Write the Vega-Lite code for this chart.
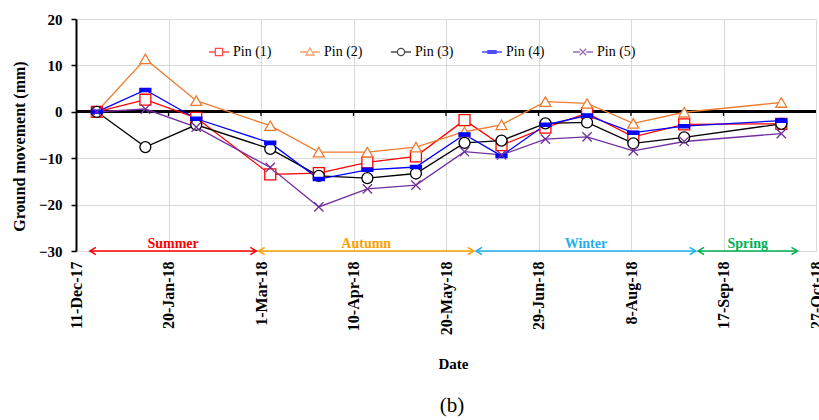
{
  "$schema": "https://vega.github.io/schema/vega-lite/v6.json",
  "autosize": "none",
  "width": 740,
  "height": 232,
  "padding": {"left": 76, "top": 19, "right": 3, "bottom": 169},
  "background": "white",
  "title": {
    "text": "(b)",
    "orient": "bottom",
    "frame": "group",
    "anchor": "middle",
    "dx": 6,
    "offset": 24,
    "font": "Liberation Serif",
    "fontSize": 21,
    "fontWeight": "normal",
    "color": "black"
  },
  "config": {
    "view": {"stroke": null},
    "font": "Liberation Serif",
    "legend": {
      "title": null,
      "orient": "none",
      "direction": "horizontal",
      "legendX": 136,
      "legendY": 26,
      "padding": 0,
      "symbolSize": 64,
      "symbolStrokeWidth": 1.3,
      "labelFont": "Liberation Serif",
      "labelFontSize": 14,
      "labelFontWeight": "normal",
      "labelColor": "black",
      "labelOffset": 7,
      "columnPadding": 25
    }
  },
  "datasets": {
    "pins": [
      {"date": "2017-12-20", "pin": "Pin (1)", "mm": 0},
      {"date": "2018-01-10", "pin": "Pin (1)", "mm": 2.6},
      {"date": "2018-02-01", "pin": "Pin (1)", "mm": -1.3},
      {"date": "2018-03-05", "pin": "Pin (1)", "mm": -13.5},
      {"date": "2018-03-26", "pin": "Pin (1)", "mm": -13.2},
      {"date": "2018-04-16", "pin": "Pin (1)", "mm": -10.9},
      {"date": "2018-05-07", "pin": "Pin (1)", "mm": -9.6},
      {"date": "2018-05-28", "pin": "Pin (1)", "mm": -1.8},
      {"date": "2018-06-13", "pin": "Pin (1)", "mm": -7.2},
      {"date": "2018-07-02", "pin": "Pin (1)", "mm": -3.4},
      {"date": "2018-07-20", "pin": "Pin (1)", "mm": -0.3},
      {"date": "2018-08-09", "pin": "Pin (1)", "mm": -5.4},
      {"date": "2018-08-31", "pin": "Pin (1)", "mm": -2.7},
      {"date": "2018-10-12", "pin": "Pin (1)", "mm": -2.6},
      {"date": "2017-12-20", "pin": "Pin (2)", "mm": 0},
      {"date": "2018-01-10", "pin": "Pin (2)", "mm": 11.4},
      {"date": "2018-02-01", "pin": "Pin (2)", "mm": 2.4},
      {"date": "2018-03-05", "pin": "Pin (2)", "mm": -3.0},
      {"date": "2018-03-26", "pin": "Pin (2)", "mm": -8.7},
      {"date": "2018-04-16", "pin": "Pin (2)", "mm": -8.7},
      {"date": "2018-05-07", "pin": "Pin (2)", "mm": -7.6},
      {"date": "2018-05-28", "pin": "Pin (2)", "mm": -4.3},
      {"date": "2018-06-13", "pin": "Pin (2)", "mm": -2.8},
      {"date": "2018-07-02", "pin": "Pin (2)", "mm": 2.2},
      {"date": "2018-07-20", "pin": "Pin (2)", "mm": 1.8},
      {"date": "2018-08-09", "pin": "Pin (2)", "mm": -2.5},
      {"date": "2018-08-31", "pin": "Pin (2)", "mm": -0.1},
      {"date": "2018-10-12", "pin": "Pin (2)", "mm": 2.0},
      {"date": "2017-12-20", "pin": "Pin (3)", "mm": 0},
      {"date": "2018-01-10", "pin": "Pin (3)", "mm": -7.6},
      {"date": "2018-02-01", "pin": "Pin (3)", "mm": -2.8},
      {"date": "2018-03-05", "pin": "Pin (3)", "mm": -8.0},
      {"date": "2018-03-26", "pin": "Pin (3)", "mm": -13.8},
      {"date": "2018-04-16", "pin": "Pin (3)", "mm": -14.3},
      {"date": "2018-05-07", "pin": "Pin (3)", "mm": -13.3},
      {"date": "2018-05-28", "pin": "Pin (3)", "mm": -6.7},
      {"date": "2018-06-13", "pin": "Pin (3)", "mm": -6.2},
      {"date": "2018-07-02", "pin": "Pin (3)", "mm": -2.5},
      {"date": "2018-07-20", "pin": "Pin (3)", "mm": -2.3},
      {"date": "2018-08-09", "pin": "Pin (3)", "mm": -6.8},
      {"date": "2018-08-31", "pin": "Pin (3)", "mm": -5.5},
      {"date": "2018-10-12", "pin": "Pin (3)", "mm": -2.6},
      {"date": "2017-12-20", "pin": "Pin (4)", "mm": 0},
      {"date": "2018-01-10", "pin": "Pin (4)", "mm": 4.7},
      {"date": "2018-02-01", "pin": "Pin (4)", "mm": -1.5},
      {"date": "2018-03-05", "pin": "Pin (4)", "mm": -6.7},
      {"date": "2018-03-26", "pin": "Pin (4)", "mm": -14.5},
      {"date": "2018-04-16", "pin": "Pin (4)", "mm": -12.5},
      {"date": "2018-05-07", "pin": "Pin (4)", "mm": -11.9},
      {"date": "2018-05-28", "pin": "Pin (4)", "mm": -4.9},
      {"date": "2018-06-13", "pin": "Pin (4)", "mm": -9.5},
      {"date": "2018-07-02", "pin": "Pin (4)", "mm": -2.8},
      {"date": "2018-07-20", "pin": "Pin (4)", "mm": -0.8},
      {"date": "2018-08-09", "pin": "Pin (4)", "mm": -4.5},
      {"date": "2018-08-31", "pin": "Pin (4)", "mm": -3.1},
      {"date": "2018-10-12", "pin": "Pin (4)", "mm": -1.9},
      {"date": "2017-12-20", "pin": "Pin (5)", "mm": 0},
      {"date": "2018-01-10", "pin": "Pin (5)", "mm": 0.6},
      {"date": "2018-02-01", "pin": "Pin (5)", "mm": -3.3},
      {"date": "2018-03-05", "pin": "Pin (5)", "mm": -12.0},
      {"date": "2018-03-26", "pin": "Pin (5)", "mm": -20.5},
      {"date": "2018-04-16", "pin": "Pin (5)", "mm": -16.6},
      {"date": "2018-05-07", "pin": "Pin (5)", "mm": -15.8},
      {"date": "2018-05-28", "pin": "Pin (5)", "mm": -8.6},
      {"date": "2018-06-13", "pin": "Pin (5)", "mm": -9.3},
      {"date": "2018-07-02", "pin": "Pin (5)", "mm": -5.9},
      {"date": "2018-07-20", "pin": "Pin (5)", "mm": -5.4},
      {"date": "2018-08-09", "pin": "Pin (5)", "mm": -8.4},
      {"date": "2018-08-31", "pin": "Pin (5)", "mm": -6.4},
      {"date": "2018-10-12", "pin": "Pin (5)", "mm": -4.7}
    ],
    "seasons": [
      {"season": "Summer", "start": "2017-12-17", "end": "2018-02-27"},
      {"season": "Autumn", "start": "2018-02-28", "end": "2018-06-01"},
      {"season": "Winter", "start": "2018-06-02", "end": "2018-09-05"},
      {"season": "Spring", "start": "2018-09-06", "end": "2018-10-19"}
    ],
    "zeroTicks": [
      {"date": "2018-01-20"},
      {"date": "2018-03-01"},
      {"date": "2018-04-10"},
      {"date": "2018-05-20"},
      {"date": "2018-06-29"},
      {"date": "2018-08-08"},
      {"date": "2018-09-17"}
    ]
  },
  "layer": [
    {
      "data": {"name": "pins"},
      "mark": {"type": "rule", "color": "black", "strokeWidth": 2},
      "encoding": {
        "y": {
          "datum": 0,
          "type": "quantitative",
          "scale": {"domain": [-30, 20], "nice": false, "zero": false},
          "axis": {
            "values": [-30, -20, -10, 0, 10, 20],
            "labelFont": "Liberation Serif",
            "labelFontWeight": "bold",
            "labelFontSize": 15,
            "labelColor": "black",
            "labelPadding": 9,
            "tickSize": 5,
            "tickColor": "black",
            "tickWidth": 1.5,
            "domainColor": "black",
            "domainWidth": 2,
            "grid": true,
            "gridColor": "#D9D9D9",
            "gridWidth": 1,
            "title": "Ground movement (mm)",
            "titleFont": "Liberation Serif",
            "titleFontSize": 16,
            "titleFontWeight": "bold",
            "titleColor": "black",
            "titleAngle": 270,
            "titleAlign": "center",
            "titleBaseline": "middle",
            "titleX": -57,
            "titleY": 127
          }
        }
      }
    },
    {
      "data": {"name": "zeroTicks"},
      "mark": {"type": "rule", "color": "black", "strokeWidth": 1.3},
      "encoding": {
        "x": {"field": "date", "type": "temporal"},
        "y": {"datum": 0, "type": "quantitative"},
        "y2": {"datum": -0.9}
      }
    },
    {
      "data": {"name": "pins"},
      "mark": {"type": "line", "strokeWidth": 1.3},
      "encoding": {
        "x": {
          "field": "date",
          "type": "temporal",
          "scale": {
            "type": "utc",
            "domain": [
              {"year": 2017, "month": 12, "date": 11, "utc": true},
              {"year": 2018, "month": 10, "date": 27, "utc": true}
            ]
          },
          "axis": {
            "values": [
              {"year": 2017, "month": 12, "date": 11, "utc": true},
              {"year": 2018, "month": 1, "date": 20, "utc": true},
              {"year": 2018, "month": 3, "date": 1, "utc": true},
              {"year": 2018, "month": 4, "date": 10, "utc": true},
              {"year": 2018, "month": 5, "date": 20, "utc": true},
              {"year": 2018, "month": 6, "date": 29, "utc": true},
              {"year": 2018, "month": 8, "date": 8, "utc": true},
              {"year": 2018, "month": 9, "date": 17, "utc": true},
              {"year": 2018, "month": 10, "date": 27, "utc": true}
            ],
            "format": "%-d-%b-%y",
            "labelAngle": 270,
            "labelAlign": "right",
            "labelBaseline": "middle",
            "labelFont": "Liberation Serif",
            "labelFontWeight": "bold",
            "labelFontSize": 16,
            "labelColor": "black",
            "labelPadding": 10,
            "labelOverlap": false,
            "labelBound": false,
            "labelFlush": false,
            "ticks": false,
            "domain": false,
            "grid": true,
            "gridColor": "#D9D9D9",
            "gridWidth": 1,
            "title": "Date",
            "titleFont": "Liberation Serif",
            "titleFontSize": 15,
            "titleFontWeight": "bold",
            "titleColor": "black",
            "titleX": 377,
            "titleY": 117,
            "titleAlign": "center",
            "titleBaseline": "alphabetic"
          }
        },
        "y": {"field": "mm", "type": "quantitative"},
        "color": {
          "field": "pin",
          "type": "nominal",
          "scale": {
            "domain": ["Pin (1)", "Pin (2)", "Pin (3)", "Pin (4)", "Pin (5)"],
            "range": ["#FF0000", "#ED7D31", "#000000", "#0000FF", "#7030A0"]
          },
          "legend": null
        }
      }
    },
    {
      "data": {"name": "pins"},
      "mark": {"type": "point", "filled": false, "size": 120, "strokeWidth": 1.3, "opacity": 1},
      "encoding": {
        "x": {"field": "date", "type": "temporal"},
        "y": {"field": "mm", "type": "quantitative"},
        "stroke": {
          "field": "pin",
          "type": "nominal",
          "scale": {
            "domain": ["Pin (1)", "Pin (2)", "Pin (3)", "Pin (4)", "Pin (5)"],
            "range": ["#FF0000", "#ED7D31", "#000000", "#0000FF", "#7030A0"]
          },
          "legend": null
        },
        "fill": {
          "field": "pin",
          "type": "nominal",
          "scale": {
            "domain": ["Pin (1)", "Pin (2)", "Pin (3)", "Pin (4)", "Pin (5)"],
            "range": ["#FFFFFF", "#FFFFFF", "#FFFFFF", "#0000FF", "#FFFFFF"]
          },
          "legend": null
        },
        "shape": {
          "field": "pin",
          "type": "nominal",
          "scale": {
            "domain": ["Pin (1)", "Pin (2)", "Pin (3)", "Pin (4)", "Pin (5)"],
            "range": [
              "square",
              "triangle-up",
              "circle",
              "M-1,-0.3L1,-0.3L1,0.3L-1,0.3Z",
              "M-0.85,-0.85L0.85,0.85M-0.85,0.85L0.85,-0.85"
            ]
          },
          "legend": null
        }
      }
    },
    {
      "data": {"name": "pins"},
      "transform": [{"filter": "false"}],
      "mark": {"type": "point", "filled": false, "strokeWidth": 1.3},
      "encoding": {
        "stroke": {
          "field": "pin",
          "type": "nominal",
          "scale": {
            "domain": ["Pin (1)", "Pin (2)", "Pin (3)", "Pin (4)", "Pin (5)"],
            "range": ["#FF0000", "#ED7D31", "#000000", "#0000FF", "#7030A0"]
          },
          "legend": {"labelFont": "Liberation Serif", "labelFontSize": 14}
        },
        "fill": {
          "field": "pin",
          "type": "nominal",
          "scale": {
            "domain": ["Pin (1)", "Pin (2)", "Pin (3)", "Pin (4)", "Pin (5)"],
            "range": ["#FFFFFF", "#FFFFFF", "#FFFFFF", "#0000FF", "#FFFFFF"]
          },
          "legend": {"labelFont": "Liberation Serif", "labelFontSize": 14}
        },
        "shape": {
          "field": "pin",
          "type": "nominal",
          "scale": {
            "domain": ["Pin (1)", "Pin (2)", "Pin (3)", "Pin (4)", "Pin (5)"],
            "range": [
              "M-2.5,0L-0.9,0M0.9,0L2.5,0M-0.9,-0.9L0.9,-0.9L0.9,0.9L-0.9,0.9Z",
              "M-2.5,0L-0.57,0M0.57,0L2.5,0M0,-1L1,0.75L-1,0.75Z",
              "M-2.5,0L-0.9,0M0.9,0L2.5,0M-0.9,0A0.9,0.9 0 1,0 0.9,0A0.9,0.9 0 1,0 -0.9,0Z",
              "M-2.5,0L2.5,0M-1,-0.35L1,-0.35L1,0.35L-1,0.35Z",
              "M-2.5,0L-0.8,0M0.8,0L2.5,0M-0.8,-0.8L0.8,0.8M-0.8,0.8L0.8,-0.8"
            ]
          },
          "legend": {"labelFont": "Liberation Serif", "labelFontSize": 14}
        }
      }
    },
    {
      "data": {"name": "seasons"},
      "mark": {"type": "rule", "strokeWidth": 1.5},
      "encoding": {
        "x": {"field": "start", "type": "temporal"},
        "x2": {"field": "end"},
        "y": {"datum": -30, "type": "quantitative"},
        "color": {
          "field": "season",
          "type": "nominal",
          "scale": {
            "domain": ["Summer", "Autumn", "Winter", "Spring"],
            "range": ["#FF0000", "#FFA000", "#1CB0F0", "#00B050"]
          },
          "legend": null
        }
      }
    },
    {
      "data": {"name": "seasons"},
      "mark": {"type": "point", "filled": false, "size": 144, "strokeWidth": 1.5, "opacity": 1, "shape": "M1,-0.6L0,0L1,0.6"},
      "encoding": {
        "x": {"field": "start", "type": "temporal"},
        "y": {"datum": -30, "type": "quantitative"},
        "color": {
          "field": "season",
          "type": "nominal",
          "scale": {
            "domain": ["Summer", "Autumn", "Winter", "Spring"],
            "range": ["#FF0000", "#FFA000", "#1CB0F0", "#00B050"]
          },
          "legend": null
        }
      }
    },
    {
      "data": {"name": "seasons"},
      "mark": {"type": "point", "filled": false, "size": 144, "strokeWidth": 1.5, "opacity": 1, "shape": "M-1,-0.6L0,0L-1,0.6"},
      "encoding": {
        "x": {"field": "end", "type": "temporal"},
        "y": {"datum": -30, "type": "quantitative"},
        "color": {
          "field": "season",
          "type": "nominal",
          "scale": {
            "domain": ["Summer", "Autumn", "Winter", "Spring"],
            "range": ["#FF0000", "#FFA000", "#1CB0F0", "#00B050"]
          },
          "legend": null
        }
      }
    },
    {
      "data": {"name": "seasons"},
      "transform": [
        {"calculate": "(time(datum.start) + time(datum.end)) / 2", "as": "mid"}
      ],
      "mark": {"type": "text", "font": "Liberation Serif", "fontSize": 14, "fontWeight": "bold", "baseline": "alphabetic", "align": "center", "dy": -3},
      "encoding": {
        "x": {"field": "mid", "type": "temporal"},
        "y": {"datum": -30, "type": "quantitative"},
        "text": {"field": "season"},
        "color": {
          "field": "season",
          "type": "nominal",
          "scale": {
            "domain": ["Summer", "Autumn", "Winter", "Spring"],
            "range": ["#FF0000", "#FFA000", "#1CB0F0", "#00B050"]
          },
          "legend": null
        }
      }
    }
  ],
  "resolve": {
    "scale": {
      "color": "independent",
      "stroke": "independent",
      "fill": "independent",
      "shape": "independent"
    }
  }
}
